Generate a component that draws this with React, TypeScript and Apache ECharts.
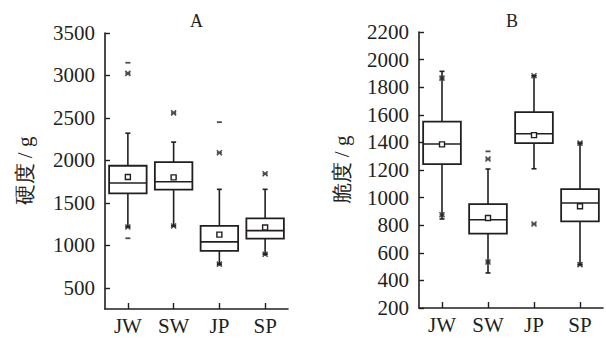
import React, { useEffect, useRef } from "react";
import * as echarts from "echarts";

const categories = ["JW", "SW", "JP", "SP"];

// [whiskerLow, Q1, median, Q3, whiskerHigh]
const hardnessBox = [
  [1216, 1612, 1733, 1937, 2320],
  [1228, 1655, 1749, 1980, 2215],
  [778, 935, 1040, 1228, 1659],
  [895, 1079, 1173, 1318, 1659],
];
const hardnessMean = [1804, 1800, 1126, 1209];
const hardnessStars: [string, number][] = [
  ["JW", 1216], ["JW", 3025],
  ["SW", 1228], ["SW", 2559],
  ["JP", 778], ["JP", 2090],
  ["SP", 895], ["SP", 1843],
];
const hardnessDashes: [string, number][] = [
  ["JW", 1083], ["JW", 3150],
  ["JP", 2450],
];
const hardnessTicks = [500, 1000, 1500, 2000, 2500, 3000, 3500];

const crispBox = [
  [845, 1243, 1388, 1550, 1915],
  [454, 739, 840, 953, 1207],
  [1209, 1395, 1463, 1620, 1883],
  [514, 828, 961, 1062, 1395],
];
const crispMean = [1386, 852, 1453, 937];
const crispStars: [string, number][] = [
  ["JW", 876], ["JW", 1866],
  ["SW", 533], ["SW", 1280],
  ["JP", 809], ["JP", 1883],
  ["SP", 514], ["SP", 1395],
];
const crispDashes: [string, number][] = [["SW", 1335]];

const INK = "#231f20";
const SERIF = "Liberation Serif";

function boxRender(params: any, api: any) {
  const cat = api.value(0);
  const lo = api.value(1), q1 = api.value(2), med = api.value(3), q3 = api.value(4), hi = api.value(5), mean = api.value(6);
  const band = api.size([1, 0])[0];
  const w = band * 0.82;
  const pLo = api.coord([cat, lo]);
  const pQ1 = api.coord([cat, q1]);
  const pMed = api.coord([cat, med]);
  const pQ3 = api.coord([cat, q3]);
  const pHi = api.coord([cat, hi]);
  const pMean = api.coord([cat, mean]);
  const x = pQ1[0];
  const cap = 2.5;
  const ls = { stroke: INK, lineWidth: 1.6, fill: null };
  return {
    type: "group",
    children: [
      { type: "line", shape: { x1: x, y1: pHi[1], x2: x, y2: pQ3[1] }, style: ls },
      { type: "line", shape: { x1: x, y1: pQ1[1], x2: x, y2: pLo[1] }, style: ls },
      { type: "line", shape: { x1: x - cap, y1: pHi[1], x2: x + cap, y2: pHi[1] }, style: ls },
      { type: "line", shape: { x1: x - cap, y1: pLo[1], x2: x + cap, y2: pLo[1] }, style: ls },
      { type: "rect", shape: { x: x - w / 2, y: pQ3[1], width: w, height: pQ1[1] - pQ3[1] }, style: { stroke: INK, lineWidth: 1.8, fill: "#fff" } },
      { type: "line", shape: { x1: x - w / 2, y1: pMed[1], x2: x + w / 2, y2: pMed[1] }, style: { stroke: INK, lineWidth: 1.6 } },
      { type: "rect", shape: { x: x - 2.5, y: pMean[1] - 2.5, width: 5, height: 5 }, style: { stroke: INK, lineWidth: 1.4, fill: "#fff" } },
    ],
  };
}

function boxData(box: number[][], mean: number[]) {
  return box.map((b, i) => [i, ...b, mean[i]]);
}

const starSymbol = "path://M0,0L10,10M10,0L0,10M0,5L10,5";
const plain = (v: number) => String(v);

export default function App() {
  const ref = useRef<HTMLDivElement>(null);
  useEffect(() => {
    if (!ref.current) return;
    const chart = echarts.init(ref.current, null, { renderer: "svg" });
    const axisLine = { show: true, lineStyle: { color: INK, width: 1.6 } };
    const xAxisBase = (gridIndex: number) => ({
      type: "category",
      gridIndex,
      data: categories,
      boundaryGap: true,
      axisLine,
      splitLine: { show: false },
      axisTick: { show: true, inside: true, alignWithLabel: true, length: 6, lineStyle: { color: INK, width: 1.4 } },
      axisLabel: { color: INK, fontFamily: SERIF, fontSize: 21, margin: 6 },
    });
    const option: any = {
      animation: false,
      backgroundColor: "#fff",
      textStyle: { fontFamily: SERIF },
      grid: [
        { left: 105, right: 318, top: 33, bottom: 29 },
        { left: 419, right: 3, top: 32, bottom: 30 },
      ],
      xAxis: [xAxisBase(0), xAxisBase(1)],
      yAxis: [
        {
          type: "value",
          gridIndex: 0,
          min: 250,
          max: 3500,
          axisLine,
          splitLine: { show: false },
          axisTick: { show: true, inside: true, length: 5, customValues: hardnessTicks, lineStyle: { color: INK, width: 1.4 } },
          axisLabel: { color: INK, fontFamily: SERIF, fontSize: 21, margin: 10, customValues: hardnessTicks, formatter: plain },
          name: "硬度 / g",
          nameLocation: "middle",
          nameRotate: 90,
          nameGap: 70,
          nameTextStyle: { color: INK, fontFamily: SERIF, fontSize: 21 },
        },
        {
          type: "value",
          gridIndex: 1,
          min: 200,
          max: 2200,
          interval: 200,
          axisLine,
          splitLine: { show: false },
          axisTick: { show: true, inside: true, length: 5, lineStyle: { color: INK, width: 1.4 } },
          axisLabel: { color: INK, fontFamily: SERIF, fontSize: 21, margin: 10, formatter: plain },
          name: "脆度 / g",
          nameLocation: "middle",
          nameRotate: 90,
          nameGap: 67,
          nameTextStyle: { color: INK, fontFamily: SERIF, fontSize: 21 },
        },
      ],
      graphic: [
        { type: "text", left: 190, top: 12, style: { text: "A", font: `18px ${SERIF}`, fill: INK } },
        { type: "text", left: 506, top: 12, style: { text: "B", font: `18px ${SERIF}`, fill: INK } },
      ],
      series: [
        { type: "custom", xAxisIndex: 0, yAxisIndex: 0, renderItem: boxRender, data: boxData(hardnessBox, hardnessMean), encode: { x: 0, y: [1, 2, 3, 4, 5, 6] }, z: 2 },
        { type: "custom", xAxisIndex: 1, yAxisIndex: 1, renderItem: boxRender, data: boxData(crispBox, crispMean), encode: { x: 0, y: [1, 2, 3, 4, 5, 6] }, z: 2 },
        { type: "scatter", xAxisIndex: 0, yAxisIndex: 0, data: hardnessStars, symbol: starSymbol, symbolSize: 5, itemStyle: { color: "none", borderColor: INK, borderWidth: 1.6 }, z: 5 },
        { type: "scatter", xAxisIndex: 1, yAxisIndex: 1, data: crispStars, symbol: starSymbol, symbolSize: 5, itemStyle: { color: "none", borderColor: INK, borderWidth: 1.6 }, z: 5 },
        { type: "scatter", xAxisIndex: 0, yAxisIndex: 0, data: hardnessDashes, symbol: "rect", symbolSize: [5, 1.8], itemStyle: { color: INK }, z: 5 },
        { type: "scatter", xAxisIndex: 1, yAxisIndex: 1, data: crispDashes, symbol: "rect", symbolSize: [5, 1.8], itemStyle: { color: INK }, z: 5 },
      ],
    };
    chart.setOption(option);
    return () => chart.dispose();
  }, []);
  return <div ref={ref} style={{ width: 606, height: 338, position: "fixed", left: 0, top: 0, background: "#fff" }} />;
}
